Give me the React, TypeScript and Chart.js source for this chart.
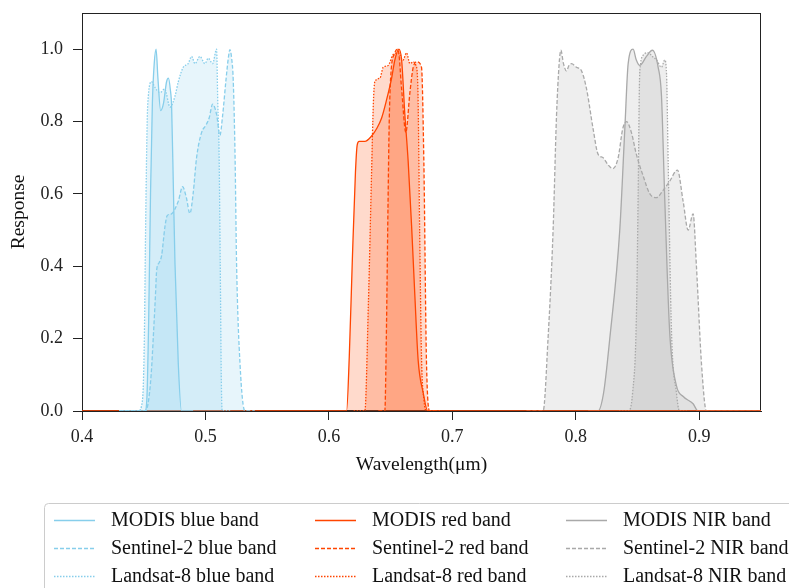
import React, { useEffect, useRef } from "react";
import { Chart, registerables } from "chart.js";

Chart.register(...registerables);

// ---------- data (wavelength in µm, relative response) ----------
const modisBlueWl = [0.43, 0.451, 0.4525, 0.454, 0.4555, 0.457, 0.4585, 0.46, 0.4615, 0.4637, 0.466, 0.4685, 0.47, 0.4715, 0.4726, 0.474, 0.4753, 0.478, 0.4806, 0.49];
const modisBlueR = [0, 0, 0.03, 0.25, 0.6, 0.85, 0.96, 1.0, 0.92, 0.83, 0.85, 0.91, 0.92, 0.89, 0.84, 0.62, 0.41, 0.13, 0, 0];

const s2BlueWl = [0.43, 0.451, 0.4535, 0.456, 0.458, 0.4595, 0.4605, 0.4625, 0.4645, 0.4672, 0.469, 0.4725, 0.478, 0.4815, 0.4845, 0.4874, 0.49, 0.4928, 0.4969, 0.5004, 0.503, 0.5058, 0.509, 0.5117, 0.514, 0.5166, 0.5185, 0.5198, 0.5212, 0.5225, 0.524, 0.5252, 0.528, 0.532, 0.54];
const s2BlueR = [0, 0, 0.02, 0.1, 0.22, 0.32, 0.39, 0.41, 0.43, 0.51, 0.54, 0.545, 0.58, 0.62, 0.59, 0.546, 0.6, 0.7, 0.77, 0.79, 0.81, 0.848, 0.82, 0.762, 0.82, 0.914, 0.975, 0.999, 0.975, 0.914, 0.7, 0.408, 0.13, 0, 0];

const l8BlueWl = [0.43, 0.4456, 0.449, 0.4505, 0.4515, 0.4528, 0.4537, 0.4564, 0.459, 0.4632, 0.467, 0.4713, 0.4753, 0.478, 0.482, 0.486, 0.4888, 0.4915, 0.4955, 0.4996, 0.5023, 0.5058, 0.509, 0.51, 0.511, 0.512, 0.5128, 0.5135, 0.52];
const l8BlueR = [0, 0, 0.03, 0.2, 0.5, 0.8, 0.87, 0.91, 0.895, 0.88, 0.89, 0.84, 0.87, 0.91, 0.95, 0.96, 0.98, 0.96, 0.98, 0.96, 0.975, 0.96, 1.0, 0.85, 0.72, 0.4, 0.1, 0, 0];

const modisRedWl = [0.4, 0.61, 0.6143, 0.6165, 0.619, 0.6215, 0.6229, 0.6245, 0.6291, 0.6346, 0.6386, 0.6427, 0.6467, 0.6508, 0.6534, 0.6567, 0.6589, 0.6615, 0.6642, 0.667, 0.6696, 0.6723, 0.6764, 0.68, 0.95];
const modisRedR = [0, 0, 0, 0.15, 0.42, 0.66, 0.735, 0.745, 0.745, 0.76, 0.78, 0.81, 0.86, 0.92, 0.97, 1.0, 0.97, 0.82, 0.69, 0.51, 0.32, 0.14, 0.05, 0, 0];

const s2RedWl = [0.64, 0.6453, 0.6465, 0.6478, 0.6488, 0.65, 0.6534, 0.656, 0.6589, 0.6623, 0.6656, 0.6683, 0.6715, 0.675, 0.6769, 0.679, 0.6818, 0.69];
const s2RedR = [0, 0, 0.2, 0.55, 0.79, 0.92, 0.99, 1.0, 0.89, 0.77, 0.88, 0.95, 0.965, 0.95, 0.69, 0.14, 0, 0];

const l8RedWl = [0.62, 0.6291, 0.632, 0.6345, 0.636, 0.6372, 0.6413, 0.644, 0.648, 0.652, 0.6561, 0.66, 0.6629, 0.6656, 0.6683, 0.6705, 0.672, 0.6735, 0.675, 0.677, 0.679, 0.685];
const l8RedR = [0, 0, 0.3, 0.65, 0.85, 0.91, 0.92, 0.95, 0.955, 0.985, 0.99, 0.97, 0.99, 0.96, 0.965, 0.955, 0.9, 0.5, 0.15, 0.03, 0, 0];

const modisNirWl = [0.81, 0.818, 0.8225, 0.8275, 0.8356, 0.8397, 0.8424, 0.8464, 0.849, 0.8518, 0.8572, 0.862, 0.8667, 0.8694, 0.872, 0.876, 0.8815, 0.887, 0.895, 0.899, 0.95];
const modisNirR = [0, 0, 0.05, 0.2, 0.5, 0.78, 0.96, 1.0, 0.97, 0.955, 0.98, 0.997, 0.95, 0.87, 0.59, 0.22, 0.07, 0.04, 0.02, 0, 0];

const s2NirWl = [0.76, 0.77, 0.7735, 0.7775, 0.7816, 0.7843, 0.7865, 0.7879, 0.79, 0.7924, 0.7945, 0.7965, 0.8005, 0.8046, 0.8087, 0.814, 0.818, 0.8221, 0.8262, 0.83, 0.8343, 0.838, 0.841, 0.845, 0.849, 0.8545, 0.86, 0.8654, 0.8707, 0.876, 0.8823, 0.8869, 0.891, 0.895, 0.8977, 0.9018, 0.9058, 0.95];
const s2NirR = [0, 0, 0, 0.2, 0.5, 0.81, 0.96, 0.997, 0.96, 0.94, 0.955, 0.96, 0.95, 0.94, 0.89, 0.78, 0.71, 0.7, 0.68, 0.67, 0.7, 0.78, 0.8, 0.77, 0.71, 0.65, 0.6, 0.59, 0.61, 0.635, 0.666, 0.58, 0.5, 0.545, 0.4, 0.13, 0, 0];

const l8NirWl = [0.835, 0.8424, 0.846, 0.849, 0.8505, 0.8515, 0.8525, 0.854, 0.8586, 0.862, 0.8654, 0.8694, 0.872, 0.8735, 0.8748, 0.8775, 0.8815, 0.884, 0.89];
const l8NirR = [0, 0, 0.05, 0.25, 0.6, 0.9, 0.96, 0.98, 0.99, 0.98, 0.97, 0.95, 0.97, 0.93, 0.69, 0.22, 0.05, 0, 0];

const xTicks = [0.4, 0.5, 0.6, 0.7, 0.8, 0.9];
const yTicks = [0.0, 0.2, 0.4, 0.6, 0.8, 1.0];

const BLUE = "#87CEEB";
const BLUE_FILL = "rgba(135,206,235,0.2)";
const RED = "#FF4500";
const RED_FILL = "rgba(255,69,0,0.2)";
const GRAY = "#A9A9A9";
const GRAY_FILL = "rgba(169,169,169,0.2)";

const SOLID: number[] = [];
const DASH = [4, 2];
const DOT = [1.5, 1.5];

const FONT = "'Liberation Serif', 'DejaVu Serif', serif";

function pts(wl: number[], r: number[]) {
  return wl.map((x, i) => ({ x, y: r[i] }));
}

function ds(label: string, wl: number[], r: number[], color: string, fill: string, dash: number[]) {
  return {
    label,
    data: pts(wl, r),
    borderColor: color,
    backgroundColor: fill,
    borderWidth: 1.3,
    borderDash: dash,
    pointRadius: 0,
    fill: "origin",
    cubicInterpolationMode: "monotone" as const,
  };
}

const legendCols = [
  { sx: 54, tx: 111 },
  { sx: 315, tx: 372 },
  { sx: 566, tx: 623 },
];
const legendRows = [520, 548, 576];

const framePlugin = {
  id: "frame",
  beforeDatasetsDraw(chart: any) {
    const { ctx, chartArea: a } = chart;
    ctx.save();
    ctx.strokeStyle = "#222";
    ctx.lineWidth = 1;
    ctx.strokeRect(a.left + 0.5, a.top + 0.5, a.right - a.left - 1, a.bottom - a.top - 1);
    ctx.restore();
  },
};

const legendPlugin = {
  id: "customLegend",
  afterDraw(chart: any) {
    const ctx = chart.ctx as CanvasRenderingContext2D;
    ctx.save();
    const bx = 44.5, by = 503.5, bw = 800, bh = 120, rr = 4;
    ctx.beginPath();
    ctx.moveTo(bx + rr, by);
    ctx.lineTo(bx + bw, by);
    ctx.lineTo(bx + bw, by + bh);
    ctx.lineTo(bx, by + bh);
    ctx.lineTo(bx, by + rr);
    ctx.quadraticCurveTo(bx, by, bx + rr, by);
    ctx.closePath();
    ctx.fillStyle = "#ffffff";
    ctx.fill();
    ctx.strokeStyle = "#cccccc";
    ctx.lineWidth = 1;
    ctx.stroke();

    const dsets = chart.data.datasets;
    ctx.font = `20px ${FONT}`;
    ctx.textBaseline = "middle";
    ctx.textAlign = "left";
    dsets.forEach((d: any, i: number) => {
      const col = Math.floor(i / 3);
      const row = i % 3;
      const c = legendCols[col];
      const y = legendRows[row];
      ctx.beginPath();
      ctx.setLineDash(d.borderDash || []);
      ctx.strokeStyle = d.borderColor;
      ctx.lineWidth = 1.5;
      ctx.moveTo(c.sx, y + 0.5);
      ctx.lineTo(c.sx + 41, y + 0.5);
      ctx.stroke();
      ctx.setLineDash([]);
      ctx.fillStyle = "#111";
      ctx.fillText(d.label, c.tx, y + 1);
    });
    ctx.restore();
  },
};

export default function App() {
  const ref = useRef<HTMLCanvasElement | null>(null);

  useEffect(() => {
    document.body.style.margin = "0";
    if (!ref.current) return;
    Chart.defaults.font.family = FONT;
    const chart = new Chart(ref.current, {
      type: "line",
      data: {
        datasets: [
          ds("MODIS blue band", modisBlueWl, modisBlueR, BLUE, BLUE_FILL, SOLID),
          ds("Sentinel-2 blue band", s2BlueWl, s2BlueR, BLUE, BLUE_FILL, DASH),
          ds("Landsat-8 blue band", l8BlueWl, l8BlueR, BLUE, BLUE_FILL, DOT),
          ds("MODIS red band", modisRedWl, modisRedR, RED, RED_FILL, SOLID),
          ds("Sentinel-2 red band", s2RedWl, s2RedR, RED, RED_FILL, DASH),
          ds("Landsat-8 red band", l8RedWl, l8RedR, RED, RED_FILL, DOT),
          ds("MODIS NIR band", modisNirWl, modisNirR, GRAY, GRAY_FILL, SOLID),
          ds("Sentinel-2 NIR band", s2NirWl, s2NirR, GRAY, GRAY_FILL, DASH),
          ds("Landsat-8 NIR band", l8NirWl, l8NirR, GRAY, GRAY_FILL, DOT),
        ] as any,
      },
      options: {
        animation: false,
        responsive: true,
        maintainAspectRatio: false,
        layout: { padding: { left: 0, right: 28, top: 13, bottom: 107 } },
        plugins: { legend: { display: false }, tooltip: { enabled: false } },
        scales: {
          x: {
            type: "linear",
            min: 0.4,
            max: 0.95,
            bounds: "data",
            afterFit: (s: any) => { s.height = 70; s.paddingLeft = 0; s.paddingRight = 0; },
            afterBuildTicks: (s: any) => { s.ticks = xTicks.map((v) => ({ value: v })); },
            ticks: {
              includeBounds: false,
              color: "#222",
              font: { size: 18, family: FONT },
              padding: 6,
              maxRotation: 0,
              callback: (v: any) => Number(v).toFixed(1),
            },
            grid: { drawOnChartArea: false, drawTicks: true, tickLength: 9, tickColor: "#222" },
            border: { display: true, color: "#222" },
            title: {
              display: true,
              text: "Wavelength(μm)",
              color: "#111",
              font: { size: 19.5, family: FONT },
              padding: { top: 0, bottom: 4 },
            },
          },
          y: {
            type: "linear",
            min: 0,
            max: 1.1,
            bounds: "data",
            afterFit: (s: any) => { s.width = 82; s.paddingTop = 0; s.paddingBottom = 0; },
            afterBuildTicks: (s: any) => { s.ticks = yTicks.map((v) => ({ value: v })); },
            ticks: {
              includeBounds: false,
              color: "#222",
              font: { size: 18, family: FONT },
              padding: 10,
              callback: (v: any) => Number(v).toFixed(1),
            },
            grid: { drawOnChartArea: false, drawTicks: true, tickLength: 9, tickColor: "#222" },
            border: { display: true, color: "#222" },
            title: {
              display: true,
              text: "Response",
              color: "#111",
              font: { size: 19.5, family: FONT },
              padding: { top: 7, bottom: 0 },
            },
          },
        },
      },
      plugins: [framePlugin, legendPlugin],
    });
    return () => chart.destroy();
  }, []);

  return (
    <div style={{ position: "relative", width: 789, height: 588 }}>
      <canvas ref={ref} style={{ display: "block" }} />
    </div>
  );
}
